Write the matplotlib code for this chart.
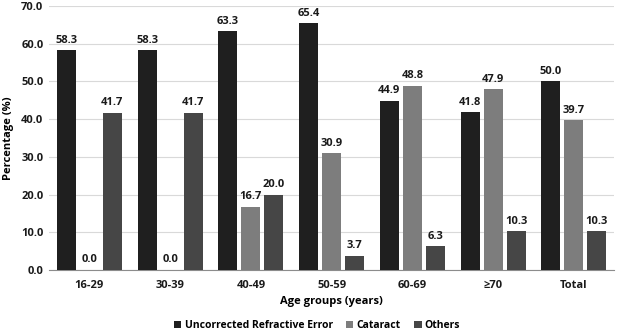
import matplotlib.pyplot as plt
import numpy as np

plt.rcParams['font.family'] = ['Open Sans', 'DejaVu Sans']
plt.rcParams['font.weight'] = 'bold'

groups = ['16-29', '30-39', '40-49', '50-59', '60-69', '≥70', 'Total']
ure = [58.3, 58.3, 63.3, 65.4, 44.9, 41.8, 50.0]
cataract = [0.0, 0.0, 16.7, 30.9, 48.8, 47.9, 39.7]
others = [41.7, 41.7, 20.0, 3.7, 6.3, 10.3, 10.3]

series = [('Uncorrected Refractive Error', ure, '#1f1f1f'),
          ('Cataract', cataract, '#7d7d7d'),
          ('Others', others, '#464646')]

fig = plt.figure(figsize=(6.28, 3.32), dpi=100)
ax = fig.add_axes([0.078, 0.187, 0.900, 0.795])

x = np.arange(len(groups))
w = 0.235
step = 0.285
for i, (name, vals, col) in enumerate(series):
    pos = x + (i - 1) * step
    ax.bar(pos, vals, width=w, color=col, label=name, zorder=3)
    for p, v in zip(pos, vals):
        ax.text(p, v + 1.2, f'{v:.1f}', ha='center', va='bottom',
                fontsize=8, fontweight='bold', color='#1a1a1a')

ax.set_xlim(-0.5, len(groups) - 0.5)
ax.set_ylim(0, 70)
ax.set_yticks(np.arange(0, 71, 10))
ax.set_yticklabels([f'{t:.1f}' for t in range(0, 71, 10)])
ax.set_xticks(x)
ax.set_xticklabels(groups)
ax.tick_params(length=0, labelsize=8, colors='#1a1a1a', pad=7)
ax.tick_params(axis='y', pad=4)
for lbl in ax.get_xticklabels() + ax.get_yticklabels():
    lbl.set_fontweight('bold')
ax.yaxis.grid(True, color='#d9d9d9', linewidth=0.8, zorder=0)
for s in ['top', 'right', 'left']:
    ax.spines[s].set_visible(False)
ax.spines['bottom'].set_color('#8c8c8c')

ax.set_ylabel('Percentage (%)', fontsize=8, fontweight='bold', labelpad=5)
ax.set_xlabel('Age groups (years)', fontsize=8, fontweight='bold', labelpad=4)

fig.legend(loc='lower center', bbox_to_anchor=(0.505, -0.025), ncol=3,
           frameon=False, handlelength=0.7, handleheight=0.7,
           columnspacing=1.3, handletextpad=0.3,
           prop={'weight': 'bold', 'size': 7.5})

fig.savefig('out.png', dpi=100)
